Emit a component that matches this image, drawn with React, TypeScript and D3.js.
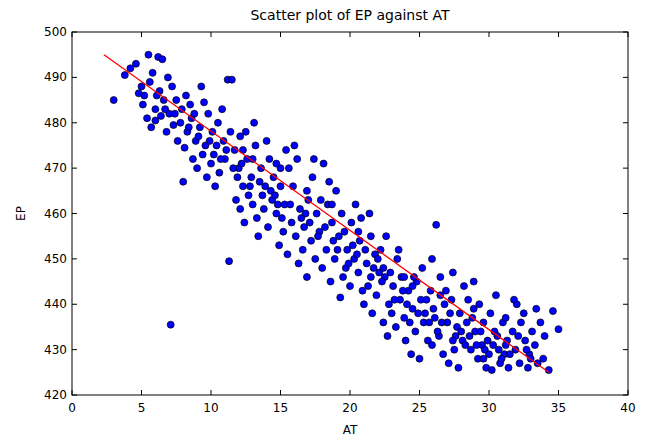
import React from "react";
import { scaleLinear } from "d3";

// AT, EP pairs (a sample of the dense cloud)
const points: [number, number][] = [
  [3, 485], [3.8, 490.5], [4.2, 492], [4.6, 493], [5, 488], [5.2, 486], [5.5, 495], [5.8, 491], [6.2, 494.5], [6.5, 494],
  [4.8, 486.5], [5.1, 484], [5.4, 481], [5.7, 479], [6, 483], [6.3, 487], [6.6, 485], [6.9, 490], [7.2, 488], [7.5, 485],
  [5.6, 489], [6, 480.5], [6.4, 481.5], [6.8, 478], [7, 482], [7.3, 479.5], [7.6, 476], [7.9, 483], [8.2, 486], [8.5, 484],
  [7.1, 435.5], [8, 467], [8.3, 478], [8.6, 481], [8.9, 476], [9.2, 479], [9.5, 484.5], [9.8, 482], [10.1, 478], [10.4, 475],
  [8.1, 474.5], [8.7, 472], [9, 470], [9.4, 473], [9.7, 468], [10, 471], [10.3, 466], [10.6, 469], [10.9, 476], [11.2, 489.5],
  [11.5, 489.5], [11.3, 449.5], [11, 472], [11.4, 478], [11.7, 474], [12, 470], [12.3, 466], [12.6, 472], [12.9, 468], [13.2, 475],
  [11.8, 463], [12.1, 461], [12.4, 458], [12.7, 464], [13, 462], [13.3, 459], [13.6, 470], [13.9, 466], [14.2, 472], [14.5, 468],
  [13.4, 455], [13.8, 461], [14.1, 457], [14.4, 463], [14.7, 460], [15, 466], [15.3, 462], [15.6, 470], [15.9, 466], [16.2, 472],
  [14.9, 453], [15.2, 456], [15.5, 451], [15.8, 458], [16.1, 455], [16.4, 461], [16.7, 457], [17, 463], [17.3, 468], [17.6, 460],
  [16.3, 449], [16.6, 452], [16.9, 446], [17.2, 454], [17.5, 450], [17.8, 456], [18.1, 471], [18.4, 462], [18.7, 458], [19, 465],
  [18, 448], [18.3, 452], [18.6, 445], [18.9, 450], [19.2, 455], [19.5, 446], [19.8, 452], [20.1, 458], [20.4, 462], [20.7, 454],
  [19.3, 441.5], [19.7, 448], [20, 444], [20.3, 450], [20.6, 447], [20.9, 443], [21.2, 449], [21.5, 455], [21.8, 451], [22.1, 447],
  [21, 440], [21.3, 444], [21.6, 438], [21.9, 442], [22.2, 452], [22.5, 446], [22.8, 440], [23.1, 444], [23.4, 450], [23.7, 446],
  [22.4, 436], [22.7, 433], [23, 438], [23.3, 435], [23.6, 441], [23.9, 437], [24.2, 443], [24.5, 439], [24.8, 445], [25.1, 441],
  [24, 432], [24.4, 429], [24.7, 434], [25, 428], [25.3, 436], [25.6, 432], [25.9, 450], [26.2, 457.5], [26.5, 446], [26.8, 440],
  [25.4, 438], [25.8, 443], [26.1, 437], [26.4, 433], [26.7, 429], [27, 436], [27.3, 441], [27.6, 433], [27.9, 438], [28.2, 444],
  [27.1, 427], [27.5, 430], [27.8, 426], [28.1, 432], [28.4, 436], [28.7, 430], [29, 434], [29.3, 440], [29.6, 436], [29.9, 432],
  [28.5, 441], [28.9, 445], [29.2, 428], [29.5, 431], [29.8, 426], [30.1, 438], [30.4, 434], [30.7, 430], [31, 436], [31.3, 432],
  [30.2, 425.5], [30.5, 442], [30.8, 427], [31.1, 429], [31.4, 426], [31.7, 434], [32, 440], [32.3, 436], [32.6, 432], [32.9, 429],
  [31.8, 441], [32.2, 427], [32.5, 438], [32.8, 426], [33.1, 434], [33.4, 439], [33.7, 436], [34, 433], [34.3, 425.5], [34.6, 438.5],
  [35, 434.5], [33.5, 427], [14, 476], [12.5, 478], [10.5, 480], [9.3, 488], [16, 475], [17.4, 472], [19.4, 460], [21.4, 460],
  [23.5, 452], [25.2, 448], [27.4, 447], [26.9, 443], [24.6, 446], [22.6, 455], [20.8, 459], [18.5, 467], [15.4, 474], [13.1, 480],
  // denser core of the band
  [6.1, 486], [6.7, 483], [7.4, 482], [7.8, 480], [8.4, 479], [8.8, 482], [9.1, 477], [9.6, 475], [9.9, 476], [10.2, 473],
  [10.7, 472], [11.1, 474], [11.6, 470], [11.9, 468], [12.2, 471], [12.8, 466], [13.5, 467], [13.7, 464], [14.3, 465], [14.6, 464],
  [14.8, 462], [15.1, 459], [15.7, 462], [16.5, 459], [16.8, 460], [17.1, 458], [17.7, 455], [18.2, 457], [18.8, 454], [19.1, 452],
  [19.6, 456], [19.9, 449], [20.2, 453], [20.5, 451], [21.1, 452], [21.7, 448], [22, 450], [22.3, 445], [22.9, 447], [23.2, 441],
  [23.8, 443], [24.1, 440], [24.3, 436], [24.9, 438], [25.5, 441], [25.7, 436], [26, 439], [26.3, 434], [26.6, 436], [27.2, 438],
  [27.7, 435], [28, 434], [28.3, 431], [28.6, 433], [28.8, 437], [29.1, 431], [29.4, 434], [29.7, 430], [30, 429], [30.3, 431],
  [30.6, 433], [30.9, 428], [31.2, 431], [31.5, 429], [31.9, 430], [32.1, 433], [32.7, 430], [33, 428], [33.3, 431], [33.9, 428],
  [12.3, 474], [13, 472], [15, 470], [16.9, 465], [18.7, 462], [21.5, 446], [23.9, 446], [26.5, 442], [28.9, 439], [31.2, 437],
  [10.8, 483], [12.1, 477], [14.7, 471], [17.9, 463], [20.6, 456], [22.4, 448], [24.5, 444], [25.9, 431], [27.4, 432], [29.6, 428],
];

const xTicks = [0, 5, 10, 15, 20, 25, 30, 35, 40];
const yTicks = [420, 430, 440, 450, 460, 470, 480, 490, 500];
const fitLine: [number, number][] = [[2.3, 495], [34.3, 425]];

const left = 72, right = 628, top = 32, bottom = 395;

export default function App() {
  const x = scaleLinear().domain([0, 40]).range([left, right]);
  const y = scaleLinear().domain([420, 500]).range([bottom, top]);
  const font = "DejaVu Sans, sans-serif";
  return (
    <svg width={645} height={446} style={{ position: "absolute", left: 0, top: 0, background: "#fff" }} fontFamily={font}>
      <text x={(left + right) / 2} y={20} textAnchor="middle" fontSize={14}>Scatter plot of EP against AT</text>
      {points.map(([a, b], i) => (
        <circle key={i} cx={x(a)} cy={y(b)} r={3.5} fill="#0000ff" stroke="#000" strokeWidth={0.7} />
      ))}
      <line x1={x(fitLine[0][0])} y1={y(fitLine[0][1])} x2={x(fitLine[1][0])} y2={y(fitLine[1][1])} stroke="#ff0000" strokeWidth={1.3} />
      <rect x={left} y={top} width={right - left} height={bottom - top} fill="none" stroke="#000" />
      {xTicks.map((t) => (
        <g key={t}>
          <line x1={x(t)} x2={x(t)} y1={bottom} y2={bottom - 5} stroke="#000" />
          <line x1={x(t)} x2={x(t)} y1={top} y2={top + 5} stroke="#000" />
          <text x={x(t)} y={bottom + 17} textAnchor="middle" fontSize={12}>{t}</text>
        </g>
      ))}
      {yTicks.map((t) => (
        <g key={t}>
          <line x1={left} x2={left + 5} y1={y(t)} y2={y(t)} stroke="#000" />
          <line x1={right} x2={right - 5} y1={y(t)} y2={y(t)} stroke="#000" />
          <text x={left - 5} y={y(t) + 4} textAnchor="end" fontSize={12}>{t}</text>
        </g>
      ))}
      <text x={(left + right) / 2} y={434} textAnchor="middle" fontSize={12}>AT</text>
      <text transform={`translate(25,${(top + bottom) / 2}) rotate(-90)`} textAnchor="middle" fontSize={12}>EP</text>
    </svg>
  );
}
